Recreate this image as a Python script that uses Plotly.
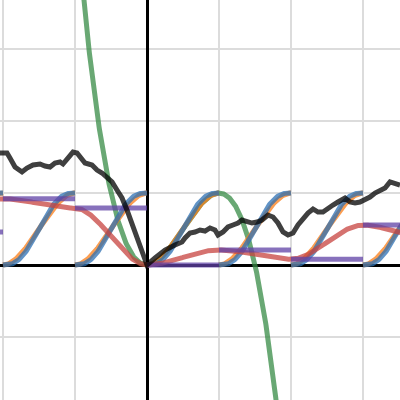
import numpy as np
import plotly.graph_objects as go

# ---- data ----
# value-noise node values at integer x (used by the step and smooth curves)
node_x = [-3, -2, -1, 0, 1, 2, 3, 4]
node_v = [0.46, 0.92, 0.79, 0.0, 0.21, 0.08, 0.555, 0.33]

# random walk (black)
walk_x = [-2.042, -1.944, -1.903, -1.833, -1.736, -1.667, -1.583, -1.486, -1.417, -1.347,
          -1.278, -1.208, -1.167, -1.097, -1.028, -0.972, -0.931, -0.861, -0.764, -0.694,
          -0.625, -0.556, -0.486, -0.417, -0.347, -0.278, -0.208, -0.139, -0.069, 0.0,
          0.111, 0.25, 0.389, 0.486, 0.528, 0.597, 0.667, 0.736, 0.806, 0.875,
          0.944, 0.986, 1.056, 1.125, 1.194, 1.264, 1.319, 1.389, 1.458, 1.528,
          1.597, 1.681, 1.75, 1.819, 1.889, 1.958, 2.028, 2.097, 2.167, 2.236,
          2.306, 2.375, 2.444, 2.514, 2.583, 2.653, 2.75, 2.819, 2.889, 2.958,
          3.028, 3.097, 3.167, 3.236, 3.306, 3.375, 3.444, 3.514]
walk_y = [1.556, 1.556, 1.486, 1.361, 1.292, 1.347, 1.389, 1.403, 1.375, 1.361,
          1.417, 1.431, 1.403, 1.486, 1.569, 1.556, 1.5, 1.417, 1.389, 1.319,
          1.278, 1.208, 1.153, 1.042, 0.931, 0.764, 0.583, 0.389, 0.208, 0.0,
          0.097, 0.208, 0.278, 0.319, 0.375, 0.444, 0.458, 0.486, 0.472, 0.514,
          0.486, 0.417, 0.458, 0.528, 0.556, 0.583, 0.625, 0.597, 0.583, 0.597,
          0.625, 0.694, 0.667, 0.583, 0.458, 0.417, 0.444, 0.556, 0.653, 0.722,
          0.778, 0.736, 0.736, 0.792, 0.833, 0.875, 0.931, 0.875, 0.861, 0.875,
          0.903, 0.944, 1.0, 1.042, 1.069, 1.153, 1.139, 1.111]

x_range = [-147 / 72, 253 / 72]
y_range = [-135 / 72, 265 / 72]

RED = "#c74440"
BLUE = "#2d70b3"
GREEN = "#388c46"
ORANGE = "#fa7e19"
PURPLE = "#6042a6"
BLACK = "#000000"
OP = 0.75
LW = 5


def smooth(t):
    return 3 * t ** 2 - 2 * t ** 3


def fade(t):
    return 6 * t ** 5 - 15 * t ** 4 + 10 * t ** 3


# periodic curves, one piece per unit interval
ox, oy, bx, by, rx, ry, px, py = [], [], [], [], [], [], [], []
for i in range(len(node_x) - 1):
    a = node_x[i]
    t = np.linspace(0, 1, 121)
    xs = a + t
    ox += list(xs) + [None]
    oy += list(smooth(t)) + [None]
    bx += list(xs) + [None]
    by += list(fade(t)) + [None]
    rx += list(xs)
    ry += list(node_v[i] + (node_v[i + 1] - node_v[i]) * smooth(t))
    px += [a, a + 1, None]
    py += [node_v[i], node_v[i], None]

gx = np.linspace(-1.2, 2.0, 600)
gy = 3 * gx ** 2 - 2 * gx ** 3

fig = go.Figure()
fig.add_trace(go.Scatter(x=gx, y=gy, mode="lines", line=dict(color=GREEN, width=LW), opacity=OP))
fig.add_trace(go.Scatter(x=ox, y=oy, mode="lines", line=dict(color=ORANGE, width=LW), opacity=OP))
fig.add_trace(go.Scatter(x=bx, y=by, mode="lines", line=dict(color=BLUE, width=LW), opacity=OP))
fig.add_trace(go.Scatter(x=rx, y=ry, mode="lines", line=dict(color=RED, width=LW), opacity=OP))
fig.add_trace(go.Scatter(x=px, y=py, mode="lines", line=dict(color=PURPLE, width=LW), opacity=OP))
fig.add_trace(go.Scatter(x=walk_x, y=walk_y, mode="lines", line=dict(color=BLACK, width=LW), opacity=OP))

axis_common = dict(
    showgrid=True, gridcolor="#dcdcdc", gridwidth=1.5, dtick=1, tick0=0,
    zeroline=True, zerolinecolor="#000000", zerolinewidth=3,
    showticklabels=False, ticks="", showline=False, fixedrange=True,
)
fig.update_layout(
    width=400, height=400,
    margin=dict(l=0, r=0, t=0, b=0),
    paper_bgcolor="white", plot_bgcolor="white",
    showlegend=False,
    xaxis=dict(range=x_range, **axis_common),
    yaxis=dict(range=y_range, **axis_common),
)
fig.write_html("out.html", config={"displayModeBar": False},
               post_script="document.body.style.margin='0px';document.body.style.overflow='hidden';")
